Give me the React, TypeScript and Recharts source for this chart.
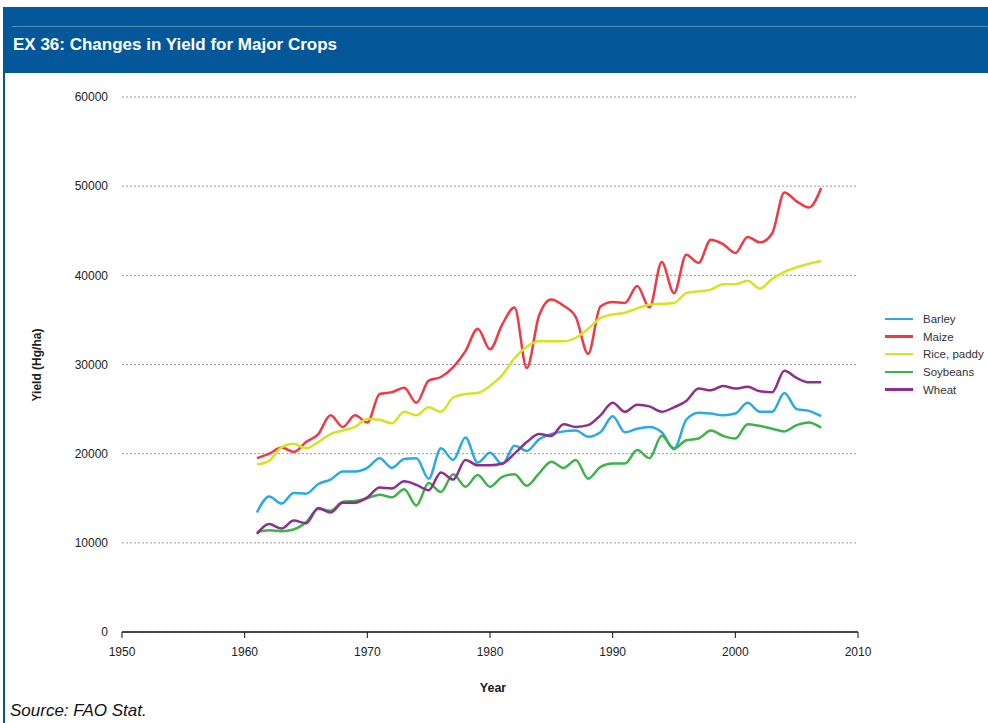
import React from 'react';
import {CartesianGrid, Line, LineChart, XAxis, YAxis} from "recharts";

const years = [
    1961, 1962, 1963, 1964, 1965, 1966, 1967, 1968, 1969, 1970,
    1971, 1972, 1973, 1974, 1975, 1976, 1977, 1978, 1979, 1980,
    1981, 1982, 1983, 1984, 1985, 1986, 1987, 1988, 1989, 1990,
    1991, 1992, 1993, 1994, 1995, 1996, 1997, 1998, 1999, 2000,
    2001, 2002, 2003, 2004, 2005, 2006, 2007
];

const barley = [
    13400, 15200, 14400, 15600, 15500, 16600, 17100, 18000, 18000, 18400,
    19500, 18400, 19400, 19500, 17200, 20600, 19300, 21800, 19000, 20100,
    18800, 20900, 20300, 21600, 22200, 22500, 22600, 21900, 22400, 24200,
    22400, 22800, 23000, 22400, 20500, 23800, 24600, 24500, 24300, 24500,
    25700, 24700, 24700, 26800, 25000, 24800, 24200
];

const maize = [
    19500, 20000, 20700, 20200, 21300, 22200, 24300, 23000, 24300, 23500,
    26700, 26900, 27400, 25700, 28200, 28600, 29700, 31500, 34000, 31700,
    34500, 36400, 29600, 35500, 37300, 36600, 35300, 31200, 36500, 37000,
    36900, 38800, 36400, 41500, 38000, 42300, 41400, 44000, 43500, 42500,
    44300, 43700, 44700, 49300, 48300, 47600, 49800
];

const rice = [
    18800, 19200, 20700, 21100, 20600, 21300, 22200, 22600, 23000, 23900,
    23800, 23400, 24700, 24300, 25200, 24700, 26300, 26700, 26800, 27600,
    28800, 30700, 32000, 32600, 32600, 32600, 33000, 34000, 35200, 35600,
    35800, 36300, 36700, 36800, 36900, 38000, 38200, 38400, 39000, 39000,
    39400, 38500, 39600, 40400, 40900, 41300, 41600
];

const soybeans = [
    11200, 11400, 11300, 11500, 12300, 13800, 13600, 14600, 14700, 15000,
    15400, 15100, 16000, 14200, 16700, 15700, 17700, 16300, 17600, 16300,
    17400, 17700, 16400, 17800, 19100, 18400, 19300, 17200, 18500, 18900,
    18900, 20400, 19500, 22000, 20600, 21500, 21700, 22600, 22000, 21700,
    23300, 23100, 22800, 22500, 23200, 23500, 22900
];

const wheat = [
    11000, 12100, 11600, 12500, 12200, 13900, 13400, 14500, 14500, 15100,
    16200, 16100, 16900, 16500, 15900, 17900, 17100, 19300, 18700, 18700,
    18900, 20000, 21300, 22200, 22000, 23300, 23000, 23200, 24300, 25700,
    24700, 25500, 25300, 24700, 25200, 25900, 27300, 27100, 27600, 27300,
    27500, 27000, 26900, 29300, 28500, 28000, 28000
];

const xTicks = [1950, 1960, 1970, 1980, 1990, 2000, 2010];
const yTicks = [0, 10000, 20000, 30000, 40000, 50000, 60000];

const series = [
    {key: "barley", name: "Barley", color: "#2aaae2"},
    {key: "maize", name: "Maize", color: "#ef3a45"},
    {key: "rice", name: "Rice, paddy", color: "#d5e422"},
    {key: "soybeans", name: "Soybeans", color: "#3fb24c"},
    {key: "wheat", name: "Wheat", color: "#8c2f8e"},
];

const data = years.map((year, i) => ({
    year,
    barley: barley[i],
    maize: maize[i],
    rice: rice[i],
    soybeans: soybeans[i],
    wheat: wheat[i],
}));

const font = "'Liberation Sans', Arial, sans-serif";

function App(): React.ReactElement {
    return (
        <div style={{position: "absolute", left: 0, top: 0, width: 988, height: 723, background: "#fff", fontFamily: font, overflow: "hidden"}}>
            {/* header band */}
            <div style={{position: "absolute", left: 3, top: 7, width: 985, height: 66, background: "#04589a"}}/>
            <div style={{position: "absolute", left: 12, top: 26, width: 976, height: 1, background: "#4f8dbf"}}/>
            <div style={{position: "absolute", left: 3, top: 7, width: 2, height: 716, background: "#04589a"}}/>
            <div style={{position: "absolute", left: 13, top: 35, color: "#fff", fontWeight: "bold", fontSize: 17}}>
                EX 36: Changes in Yield for Major Crops
            </div>

            <div style={{position: "absolute", left: 0, top: 0}}>
                <LineChart width={988} height={723} data={data} margin={{top: 97, right: 130, bottom: 61, left: 62}}>
                    <CartesianGrid vertical={false} stroke="#999" strokeDasharray="2 2"/>
                    <XAxis
                        dataKey="year"
                        type="number"
                        domain={[1950, 2010]}
                        ticks={xTicks}
                        height={30}
                        axisLine={{stroke: "#111", strokeWidth: 1.5}}
                        tickLine={{stroke: "#111"}}
                        tickSize={6}
                        tickMargin={9}
                        tick={{fill: "#222", fontSize: 12, fontFamily: font}}
                    />
                    <YAxis
                        domain={[0, 60000]}
                        ticks={yTicks}
                        width={60}
                        axisLine={false}
                        tickLine={false}
                        tickSize={6}
                        tickMargin={8}
                        tick={{fill: "#222", fontSize: 12, fontFamily: font}}
                    />
                    {series.map((s) => (
                        <Line
                            key={s.key}
                            dataKey={s.key}
                            name={s.name}
                            type="monotone"
                            stroke={s.color}
                            strokeWidth={2.5}
                            dot={false}
                            isAnimationActive={false}
                        />
                    ))}
                </LineChart>
            </div>

            {/* axis titles */}
            <div style={{position: "absolute", left: 37, top: 365, transform: "translate(-50%, -50%) rotate(-90deg)", fontSize: 12, fontWeight: "bold", color: "#222", whiteSpace: "nowrap"}}>
                Yield (Hg/ha)
            </div>
            <div style={{position: "absolute", left: 493, top: 688, transform: "translate(-50%, -50%)", fontSize: 12.5, fontWeight: "bold", color: "#222"}}>
                Year
            </div>

            {/* legend */}
            <div style={{position: "absolute", left: 885, top: 310}}>
                {series.map((s) => (
                    <div key={s.key} style={{display: "flex", alignItems: "center", height: 17.7}}>
                        <span style={{width: 28, height: 2.5, background: s.color, marginRight: 10}}/>
                        <span style={{fontSize: 11.5, color: "#333", whiteSpace: "nowrap"}}>{s.name}</span>
                    </div>
                ))}
            </div>

            <div style={{position: "absolute", left: 10, top: 701, fontSize: 17, fontStyle: "italic", color: "#111"}}>
                Source: FAO Stat.
            </div>
        </div>
    );
}

export default App;
